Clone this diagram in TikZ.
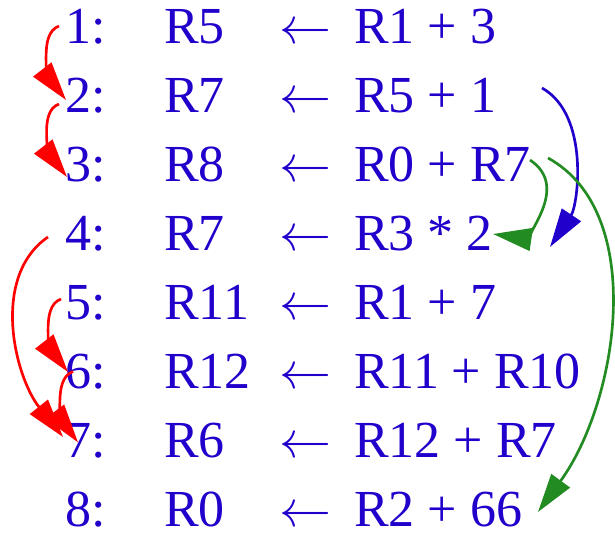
\RequirePackage{fix-cm}
\documentclass[tikz,border=0pt]{standalone}
\usepackage{fontspec}
\setmainfont{Liberation Serif}
\usetikzlibrary{arrows.meta}
\definecolor{txtblue}{RGB}{34,0,204}
\definecolor{arrred}{RGB}{255,0,0}
\definecolor{arrgreen}{RGB}{34,139,34}
\begin{document}
\begin{tikzpicture}[x=0.75pt,y=-0.75pt,
  txt/.style={anchor=base west,inner sep=0pt,text=txtblue,font=\fontsize{39}{40}\selectfont},
  dep/.style={line width=2pt,-{Triangle[length=29pt,width=17pt]}}]
\useasboundingbox (0,0) rectangle (615,534);
\foreach \i/\d/\s in {1/R5/R1 + 3, 2/R7/R5 + 1, 3/R8/R0 + R7, 4/R7/R3 * 2, 5/R11/R1 + 7, 6/R12/R11 + R10, 7/R6/R12 + R7, 8/R0/R2 + 66}{
  \pgfmathsetmacro{\yy}{44+69*(\i-1)}
  \node[txt] (l\i) at (65,\yy) {\i:};
  \node[txt] (d\i) at (164,\yy) {\d};
  \node[txt] (a\i) at (279,\yy) {$\leftarrow$};
  \node[txt] (s\i) at (354,\yy) {\s};
}
% red dependencies
\draw[dep,arrred] ([shift={(-6,-18)}]l1.base west) .. controls +(-22,8) and +(-14,-18) .. ([shift={(1,-13)}]l2.base west);
\draw[dep,arrred] ([shift={(-6,-9)}]l2.base west) .. controls +(-22,8) and +(-14,-18) .. ([shift={(2,-5)}]l3.base west);
\draw[dep,arrred] ([shift={(-17,-14)}]l4.base west) .. controls +(-58,40) and +(-48,-60) .. ([shift={(-2,-21)}]l7.base west);
\draw[dep,arrred] ([shift={(-4,-21)}]l5.base west) .. controls +(-22,8) and +(-14,-18) .. ([shift={(3,-17)}]l6.base west);
\draw[dep,arrred] ([shift={(8,-17.5)}]l6.base west) .. controls +(-22,8) and +(-12,-16) .. ([shift={(13,-15.6)}]l7.base west);
% blue dependency
\draw[dep,txtblue] ([shift={(188,-25)}]s2.base west) .. controls +(48,27) and +(28,-42) .. ([shift={(196,-4)}]s4.base west);
% green dependencies
\draw[dep,arrgreen] ([shift={(176,-22)}]s3.base west) .. controls +(42,28) and +(28,4) .. ([shift={(139,-17)}]s4.base west);
\draw[dep,arrgreen] ([shift={(194,-24)}]s3.base west) .. controls +(100,55) and +(80,-110) .. ([shift={(184,-15)}]s8.base west);
\end{tikzpicture}
\end{document}
